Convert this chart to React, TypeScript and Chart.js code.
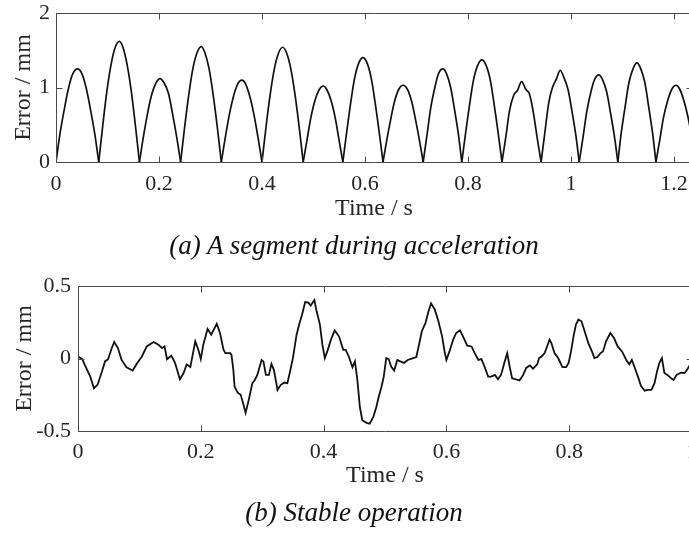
import React, { useEffect, useRef } from 'react';
import { Chart, registerables } from 'chart.js';

Chart.register(...registerables);

const SERIF = '"Liberation Serif", "Times New Roman", Times, serif';

const X_TITLE = 'Time / s';
const Y_TITLE = 'Error / mm';
const CAPTION_A = '(a) A segment during acceleration';
const CAPTION_B = '(b) Stable operation';

// (a) segment during acceleration
const A_TIME = [
  0, 0.008, 0.017, 0.025, 0.033, 0.042, 0.05, 0.058, 0.066, 0.075,
  0.083, 0.091, 0.099, 0.107, 0.115, 0.123, 0.13, 0.138, 0.146, 0.154,
  0.162, 0.17, 0.178, 0.186, 0.194, 0.202, 0.21, 0.218, 0.226, 0.234,
  0.242, 0.25, 0.258, 0.266, 0.274, 0.282, 0.289, 0.297, 0.305, 0.313,
  0.321, 0.329, 0.337, 0.345, 0.353, 0.361, 0.368, 0.376, 0.384, 0.392,
  0.4, 0.408, 0.416, 0.424, 0.432, 0.44, 0.448, 0.456, 0.464, 0.472,
  0.48, 0.488, 0.495, 0.503, 0.511, 0.519, 0.526, 0.534, 0.542, 0.549,
  0.557, 0.565, 0.573, 0.58, 0.588, 0.596, 0.604, 0.612, 0.619, 0.627,
  0.635, 0.643, 0.651, 0.658, 0.666, 0.674, 0.682, 0.69, 0.697, 0.705,
  0.713, 0.721, 0.728, 0.736, 0.743, 0.751, 0.758, 0.766, 0.773, 0.781,
  0.788, 0.796, 0.804, 0.811, 0.819, 0.827, 0.835, 0.843, 0.85, 0.858,
  0.866, 0.874, 0.881, 0.889, 0.896, 0.904, 0.912, 0.919, 0.927, 0.934,
  0.942, 0.949, 0.957, 0.964, 0.972, 0.979, 0.986, 0.994, 1.001, 1.009,
  1.016, 1.024, 1.031, 1.039, 1.046, 1.054, 1.061, 1.069, 1.076, 1.084,
  1.091, 1.098, 1.106, 1.113, 1.121, 1.128, 1.135, 1.143, 1.15, 1.158,
  1.165, 1.173, 1.18, 1.188, 1.196, 1.204, 1.211, 1.219, 1.227, 1.235,
];
const A_ERROR = [
  0, 0.39, 0.74, 1.01, 1.19, 1.25, 1.19, 1.01, 0.74, 0.39,
  0, 0.5, 0.96, 1.31, 1.54, 1.62, 1.54, 1.31, 0.96, 0.5,
  0, 0.35, 0.66, 0.91, 1.06, 1.12, 1.06, 0.93, 0.66, 0.35,
  0, 0.48, 0.91, 1.26, 1.47, 1.55, 1.47, 1.26, 0.91, 0.48,
  0, 0.34, 0.65, 0.89, 1.05, 1.1, 1.05, 0.89, 0.65, 0.34,
  0, 0.48, 0.91, 1.25, 1.46, 1.54, 1.46, 1.25, 0.91, 0.48,
  0, 0.32, 0.6, 0.83, 0.97, 1.02, 0.97, 0.83, 0.6, 0.32,
  0, 0.43, 0.83, 1.13, 1.33, 1.4, 1.33, 1.13, 0.83, 0.43,
  0, 0.32, 0.61, 0.83, 0.98, 1.03, 0.98, 0.83, 0.61, 0.32,
  0, 0.39, 0.74, 1.01, 1.19, 1.25, 1.19, 1.01, 0.74, 0.39,
  0, 0.42, 0.81, 1.11, 1.3, 1.37, 1.3, 1.11, 0.81, 0.42,
  0, 0.36, 0.7, 0.9, 0.96, 1.08, 0.98, 0.92, 0.66, 0.34,
  0, 0.38, 0.8, 1.0, 1.12, 1.23, 1.14, 0.98, 0.72, 0.38,
  0, 0.36, 0.69, 0.95, 1.11, 1.17, 1.11, 0.95, 0.69, 0.36,
  0, 0.41, 0.78, 1.08, 1.26, 1.33, 1.26, 1.08, 0.78, 0.41,
  0, 0.32, 0.61, 0.83, 0.98, 1.03, 0.98, 0.83, 0.61, 0.32,
];
const A_X_TICKS = [0, 0.2, 0.4, 0.6, 0.8, 1, 1.2];
const A_Y_TICKS = [0, 1, 2];

// (b) stable operation
const B_TIME = [
  0, 0.007, 0.011, 0.02, 0.026, 0.032, 0.039, 0.044, 0.049, 0.055,
  0.059, 0.065, 0.071, 0.079, 0.089, 0.096, 0.104, 0.112, 0.123, 0.131,
  0.137, 0.141, 0.145, 0.152, 0.158, 0.166, 0.172, 0.177, 0.183, 0.191,
  0.196, 0.2, 0.204, 0.211, 0.217, 0.226, 0.231, 0.237, 0.24, 0.248,
  0.25, 0.253, 0.255, 0.26, 0.265, 0.269, 0.273, 0.278, 0.284, 0.288,
  0.292, 0.296, 0.299, 0.302, 0.306, 0.311, 0.315, 0.319, 0.325, 0.33,
  0.336, 0.341, 0.345, 0.35, 0.356, 0.361, 0.365, 0.37, 0.375, 0.379,
  0.385, 0.388, 0.394, 0.398, 0.402, 0.406, 0.412, 0.418, 0.425, 0.432,
  0.436, 0.441, 0.447, 0.451, 0.455, 0.459, 0.463, 0.47, 0.475, 0.481,
  0.486, 0.49, 0.494, 0.498, 0.502, 0.506, 0.51, 0.515, 0.52, 0.525,
  0.531, 0.537, 0.546, 0.551, 0.556, 0.56, 0.566, 0.571, 0.575, 0.581,
  0.587, 0.593, 0.597, 0.6, 0.605, 0.611, 0.616, 0.622, 0.627, 0.634,
  0.641, 0.646, 0.652, 0.657, 0.662, 0.668, 0.673, 0.679, 0.684, 0.689,
  0.695, 0.699, 0.703, 0.707, 0.712, 0.719, 0.725, 0.73, 0.736, 0.741,
  0.748, 0.751, 0.755, 0.76, 0.764, 0.768, 0.771, 0.776, 0.782, 0.789,
  0.795, 0.799, 0.803, 0.807, 0.811, 0.815, 0.82, 0.826, 0.831, 0.837,
  0.841, 0.846, 0.851, 0.855, 0.86, 0.867, 0.873, 0.879, 0.886, 0.893,
  0.898, 0.902, 0.906, 0.912, 0.917, 0.923, 0.928, 0.934, 0.939, 0.943,
  0.947, 0.951, 0.955, 0.96, 0.966, 0.97, 0.975, 0.982, 0.988, 0.992,
  0.996, 1.0,
];
const B_ERROR = [
  0.014, -0.005, -0.044, -0.125, -0.205, -0.18, -0.09, -0.02, -0.005, 0.072,
  0.114, 0.072, -0.01, -0.06, -0.083, -0.035, 0.014, 0.083, 0.114, 0.095,
  0.072, 0.083, -0.005, 0.02, -0.03, -0.143, -0.1, -0.04, -0.058, 0.118,
  0.06, -0.004, 0.094, 0.204, 0.164, 0.239, 0.18, 0.06, 0.037, 0.037,
  0.025, -0.078, -0.194, -0.236, -0.25, -0.31, -0.375, -0.287, -0.17, -0.148,
  -0.113, -0.055, -0.01, -0.02, -0.113, -0.113, -0.037, -0.078, -0.217, -0.183,
  -0.166, -0.17, -0.097, 0.003, 0.164, 0.246, 0.303, 0.389, 0.385, 0.366,
  0.403, 0.338, 0.234, 0.095, 0.003, 0.049, 0.13, 0.194, 0.153, 0.06,
  0.06, 0.014, -0.06, -0.02, -0.148, -0.333, -0.426, -0.444, -0.449, -0.403,
  -0.333, -0.26, -0.2, -0.125, 0.003, -0.004, -0.055, -0.083, -0.01, -0.02,
  -0.03, -0.01, 0.003, 0.01, 0.107, 0.188, 0.246, 0.327, 0.38, 0.338,
  0.257, 0.153, 0.049, -0.01, 0.049, 0.13, 0.176, 0.194, 0.153, 0.088,
  0.083, 0.037, -0.01, -0.004, -0.055, -0.125, -0.125, -0.113, -0.143, -0.113,
  -0.02, 0.037, -0.055, -0.136, -0.143, -0.152, -0.113, -0.065, -0.048, -0.07,
  -0.04, 0.003, 0.014, 0.037, 0.083, 0.13, 0.107, 0.037, 0.003, -0.06,
  -0.06, -0.03, 0.049, 0.153, 0.234, 0.269, 0.257, 0.176, 0.107, 0.049,
  0.003, 0.01, 0.037, 0.049, 0.118, 0.176, 0.141, 0.083, 0.049, -0.01,
  -0.04, -0.01, -0.055, -0.125, -0.19, -0.222, -0.217, -0.217, -0.17, -0.09,
  -0.03, 0.003, -0.1, -0.113, -0.136, -0.148, -0.113, -0.097, -0.1, -0.078,
  -0.048, -0.03,
];
const B_X_TICKS = [0, 0.2, 0.4, 0.6, 0.8, 1];
const B_Y_TICKS = [-0.5, 0, 0.5];

type Panel = {
  time: number[];
  error: number[];
  splitAtZero: boolean;
  tension: number;
  lineWidth: number;
  xMin: number;
  xMax: number;
  yMin: number;
  yMax: number;
  xTicks: number[];
  yTicks: number[];
  width: number;
  height: number;
  padTop: number;
  padRight: number;
  yAxisWidth: number;
  xAxisHeight: number;
  xTickPad: number;
  yTickPad: number;
  xTitlePad: number;
  yTitlePad: number;
};

const boxPlugin = {
  id: 'matlabBox',
  afterDraw(chart: any) {
    const { ctx, chartArea: a, scales } = chart;
    const len = 6;
    ctx.save();
    ctx.strokeStyle = '#4a4a4a';
    ctx.lineWidth = 1;
    ctx.beginPath();
    const L = Math.round(a.left) + 0.5;
    const R = Math.round(a.right) + 0.5;
    const T = Math.round(a.top) + 0.5;
    const B = Math.round(a.bottom) + 0.5;
    ctx.moveTo(L, T);
    ctx.lineTo(R, T);
    ctx.lineTo(R, B);
    ctx.lineTo(L, B);
    ctx.closePath();
    scales.x.ticks.forEach((t: any) => {
      const px = Math.round(scales.x.getPixelForValue(t.value)) + 0.5;
      ctx.moveTo(px, T);
      ctx.lineTo(px, T + len);
      ctx.moveTo(px, B);
      ctx.lineTo(px, B - len);
    });
    scales.y.ticks.forEach((t: any) => {
      const py = Math.round(scales.y.getPixelForValue(t.value)) + 0.5;
      ctx.moveTo(L, py);
      ctx.lineTo(L + len, py);
      ctx.moveTo(R, py);
      ctx.lineTo(R - len, py);
    });
    ctx.stroke();
    ctx.restore();
  },
};

// Split a series into arches that start/end at the zero samples (so each cusp stays sharp).
function buildSegments(time: number[], error: number[], split: boolean) {
  const pts = time.map((t, i) => ({ x: t, y: error[i] }));
  if (!split) return [pts];
  const segs: { x: number; y: number }[][] = [];
  let cur: { x: number; y: number }[] = [];
  pts.forEach((pt, i) => {
    if (pt.y === 0 && i > 0) {
      cur.push(pt);
      segs.push(cur);
      cur = [pt];
    } else {
      cur.push(pt);
    }
  });
  if (cur.length > 1) segs.push(cur);
  return segs;
}

function PanelChart({ p, top }: { p: Panel; top: number }) {
  const ref = useRef<HTMLCanvasElement | null>(null);
  useEffect(() => {
    if (!ref.current) return;
    const segs = buildSegments(p.time, p.error, p.splitAtZero);
    const chart = new Chart(ref.current, {
      type: 'line',
      data: {
        datasets: segs.map((seg) => ({
          data: seg,
          borderColor: '#111111',
          borderWidth: p.lineWidth,
          pointRadius: 0,
          tension: p.tension,
          fill: false,
        })),
      },
      options: {
        animation: false,
        responsive: false,
        events: [],
        layout: { padding: { top: p.padTop, right: p.padRight, left: 0, bottom: 0 } },
        plugins: { legend: { display: false }, tooltip: { enabled: false }, title: { display: false } },
        scales: {
          x: {
            type: 'linear',
            min: p.xMin,
            max: p.xMax,
            grid: { display: false, drawTicks: false },
            border: { display: false },
            afterBuildTicks: (s: any) => {
              s.ticks = p.xTicks.map((v) => ({ value: v }));
            },
            afterFit: (s: any) => {
              s.height = p.xAxisHeight;
              s.paddingLeft = 0;
              s.paddingRight = 0;
            },
            ticks: {
              autoSkip: false,
              maxRotation: 0,
              padding: p.xTickPad,
              color: '#262626',
              font: { family: SERIF, size: 22 },
              callback: (v: any) => String(Number(v)),
            },
            title: {
              display: true,
              text: X_TITLE,
              color: '#262626',
              font: { family: SERIF, size: 24 },
              padding: { top: 0, bottom: p.xTitlePad },
            },
          },
          y: {
            type: 'linear',
            min: p.yMin,
            max: p.yMax,
            grid: { display: false, drawTicks: false },
            border: { display: false },
            afterBuildTicks: (s: any) => {
              s.ticks = p.yTicks.map((v) => ({ value: v }));
            },
            afterFit: (s: any) => {
              s.width = p.yAxisWidth;
              s.paddingTop = 0;
              s.paddingBottom = 0;
            },
            ticks: {
              autoSkip: false,
              padding: p.yTickPad,
              color: '#262626',
              font: { family: SERIF, size: 22 },
              callback: (v: any) => String(Number(v)),
            },
            title: {
              display: true,
              text: Y_TITLE,
              color: '#262626',
              font: { family: SERIF, size: 24 },
              padding: { top: p.yTitlePad, bottom: 0 },
            },
          },
        },
      },
      plugins: [boxPlugin],
    } as any);
    return () => chart.destroy();
  }, [p]);
  return (
    <canvas
      ref={ref}
      width={p.width}
      height={p.height}
      style={{ position: 'absolute', left: 0, top, width: p.width, height: p.height, display: 'block' }}
    />
  );
}

const PANEL_A: Panel = {
  time: A_TIME,
  error: A_ERROR,
  splitAtZero: true,
  tension: 0.35,
  lineWidth: 1.7,
  xMin: 0,
  xMax: 1.235,
  yMin: 0,
  yMax: 2,
  xTicks: A_X_TICKS,
  yTicks: A_Y_TICKS,
  width: 700,
  height: 232,
  padTop: 13,
  padRight: 8,
  yAxisWidth: 56,
  xAxisHeight: 70,
  xTickPad: 9,
  yTickPad: 6,
  xTitlePad: 9,
  yTitlePad: 9,
};

const PANEL_B: Panel = {
  time: B_TIME,
  error: B_ERROR,
  splitAtZero: false,
  tension: 0,
  lineWidth: 1.8,
  xMin: 0,
  xMax: 1,
  yMin: -0.5,
  yMax: 0.5,
  xTicks: B_X_TICKS,
  yTicks: B_Y_TICKS,
  width: 700,
  height: 230,
  padTop: 16,
  padRight: 8,
  yAxisWidth: 78,
  xAxisHeight: 69,
  xTickPad: 8,
  yTickPad: 7,
  xTitlePad: 10,
  yTitlePad: 10,
};

const captionStyle = (top: number): React.CSSProperties => ({
  position: 'absolute',
  left: 0,
  top,
  width: 708,
  textAlign: 'center',
  fontFamily: SERIF,
  fontStyle: 'italic',
  fontSize: 27,
  lineHeight: '28px',
  color: '#111',
  whiteSpace: 'nowrap',
});

export default function App() {
  return (
    <div
      style={{
        position: 'absolute',
        left: 0,
        top: 0,
        width: 689,
        height: 533,
        overflow: 'hidden',
        background: '#fff',
      }}
    >
      <PanelChart p={PANEL_A} top={0} />
      <div style={captionStyle(231)}>{CAPTION_A}</div>
      <PanelChart p={PANEL_B} top={270} />
      <div style={captionStyle(498)}>{CAPTION_B}</div>
    </div>
  );
}
